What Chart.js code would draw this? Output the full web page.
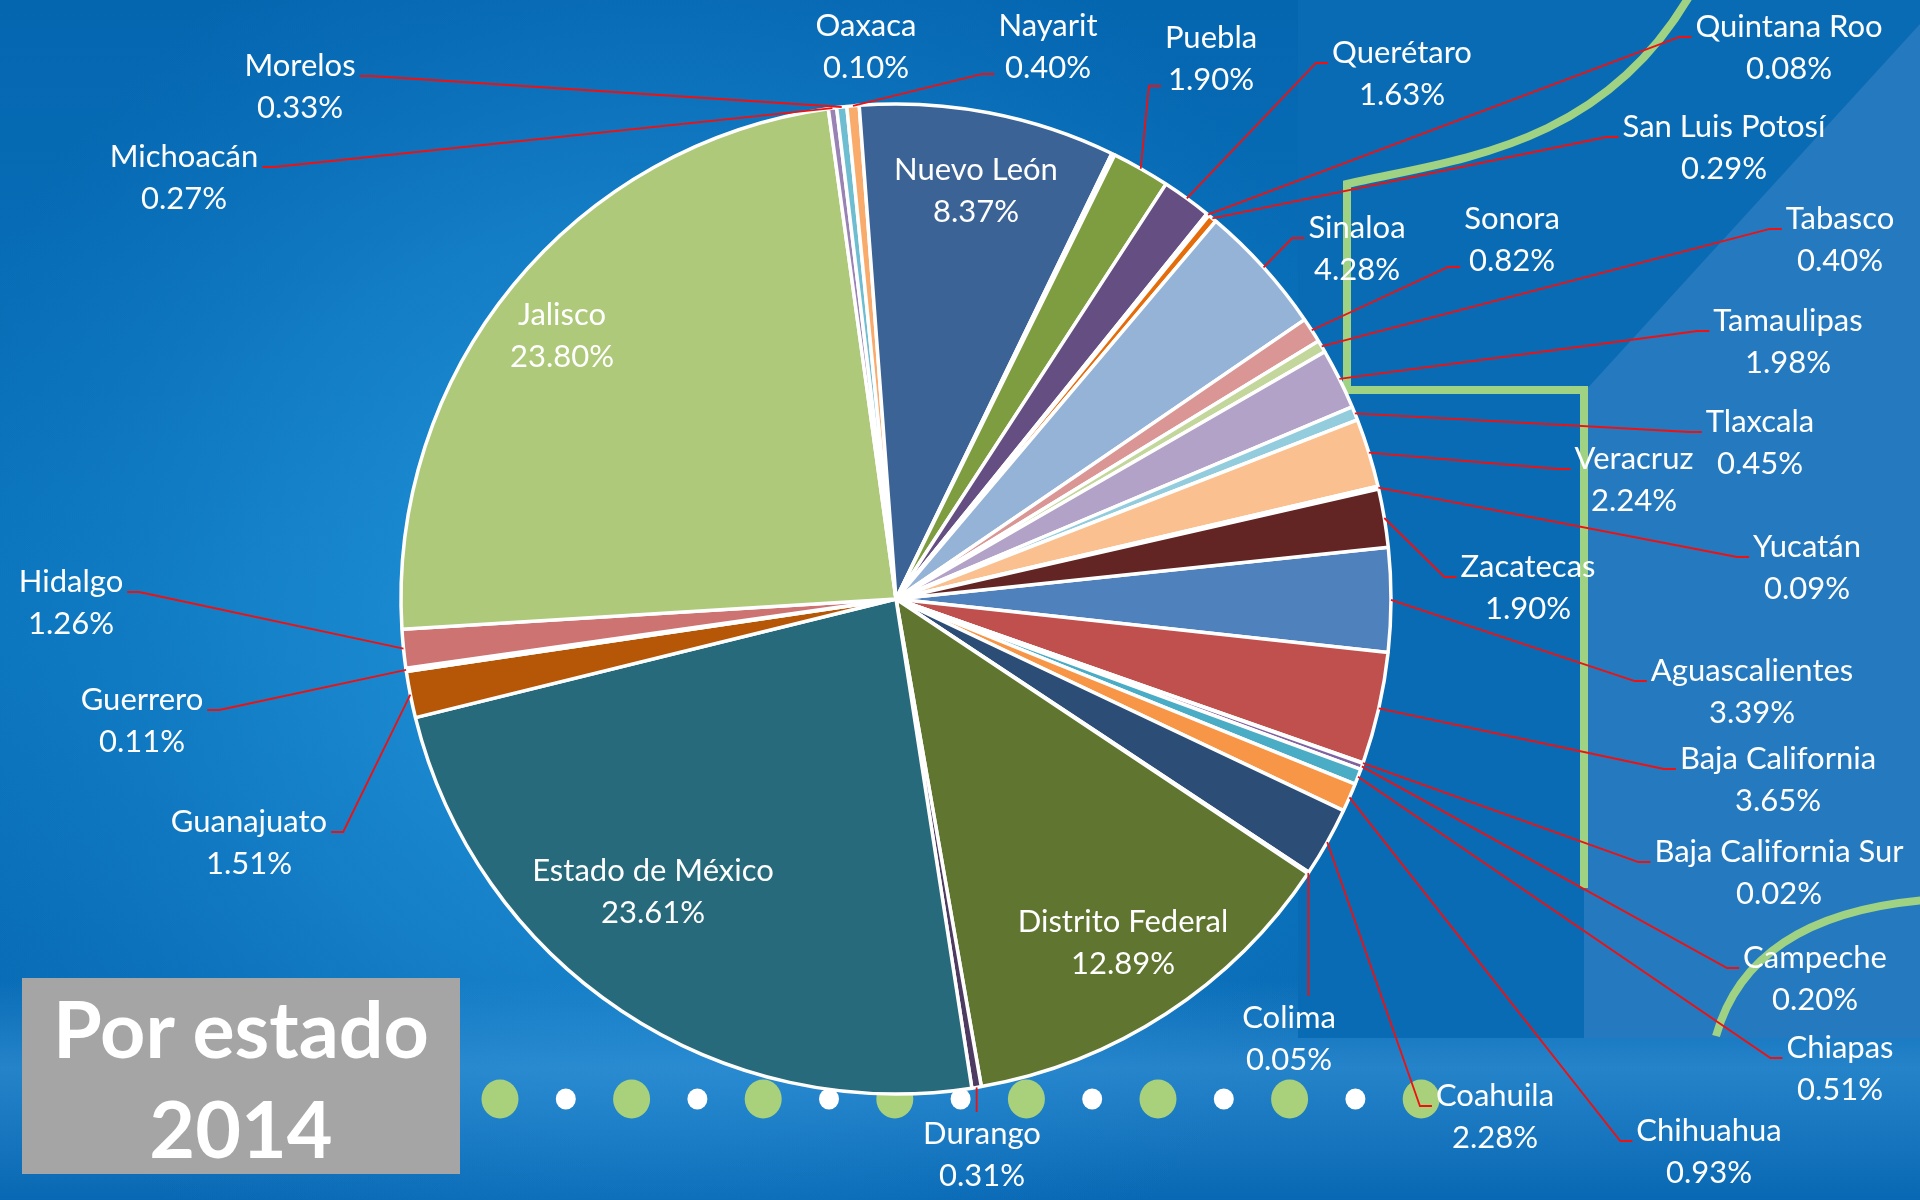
<!DOCTYPE html>
<html>
<head>
<meta charset="utf-8">
<title>Por estado 2014</title>
<script src="https://cdn.jsdelivr.net/npm/chart.js@4.4.1/dist/chart.umd.min.js"></script>
<style>
  html, body { margin: 0; padding: 0; background: #0a6ab4; overflow: hidden; }
  #wrap { position: relative; width: 1920px; height: 1200px; }
  #title {
    position: absolute; left: 22px; top: 978px; width: 438px; height: 196px;
    background: #a5a5a5; color: #fff; text-align: center;
    font: bold 79px Lato, sans-serif; line-height: 100px;
  }
</style>
</head>
<body>
<div id="wrap">
  <canvas id="chart" width="1920" height="1200"></canvas>
  <div id="title">Por estado<br>2014</div>
</div>
<script>
// datos por estado (porcentaje del total, 2014)
var estados = [
    "Aguascalientes", "Baja California", "Baja California Sur", "Campeche",
    "Chiapas", "Chihuahua", "Coahuila", "Colima", "Distrito Federal", "Durango",
    "Estado de México", "Guanajuato", "Guerrero", "Hidalgo", "Jalisco",
    "Michoacán", "Morelos", "Nayarit", "Nuevo León", "Oaxaca", "Puebla",
    "Querétaro", "Quintana Roo", "San Luis Potosí", "Sinaloa", "Sonora",
    "Tabasco", "Tamaulipas", "Tlaxcala", "Veracruz", "Yucatán", "Zacatecas"
];
var porcentajes = [
    3.39, 3.65, 0.02, 0.20,
    0.51, 0.93, 2.28, 0.05, 12.89, 0.31,
    23.61, 1.51, 0.11, 1.26, 23.80,
    0.27, 0.33, 0.40, 8.37, 0.10, 1.90,
    1.63, 0.08, 0.29, 4.28, 0.82,
    0.40, 1.98, 0.45, 2.24, 0.09, 1.90
];
var colores = [
    "#4F81BD", "#C0504D", "#9BBB59", "#8064A2",
    "#4BACC6", "#F79646", "#2C4D75", "#772C2A", "#5F7530", "#4D3B62",
    "#276A7C", "#B65708", "#729ACA", "#CD7371", "#AFC97A",
    "#9983B5", "#6FBDD1", "#F9AB6B", "#3B6396", "#8F3C3A", "#7E9D41",
    "#654F82", "#3A8FA5", "#E46C0A", "#95B3D7", "#D99694",
    "#C3D69B", "#B2A2C7", "#93CDDD", "#FAC090", "#254061", "#632523"
];

// posicion de cada etiqueta (centro de la linea del nombre) y fila donde llega la guia
// fila: 0 = nombre, 1 = porcentaje, null = sin guia
var labelPos = [
    [1752, 671, 0], [1778, 759, 0], [1779, 852, 0], [1815, 958, 0],
    [1840, 1048, 0], [1709, 1131, 0], [1495, 1096, 0], [1289, 1018, 0], [1123, 922, null], [982, 1134, 0],
    [653, 871, null], [249, 822, 0], [142, 700, 0], [71, 582, 0], [562, 315, null],
    [184, 157, 0], [300, 66, 0], [1048, 26, 1], [976, 170, null], [866, 26, null], [1211, 38, 1],
    [1402, 53, 0], [1789, 27, 0], [1724, 127, 0], [1357, 228, 0], [1512, 219, 1],
    [1840, 219, 0], [1788, 321, 0], [1760, 422, 0], [1634, 459, 0], [1807, 547, 0], [1528, 567, 0]
];

var lineH = 42;

// fondo: degradado azul, panel, lineas verdes y puntos
var fondoPlugin = {
    id: 'fondo',
    beforeDraw: function (chart) {
        var ctx = chart.ctx, W = chart.width, H = chart.height;
        ctx.save();
        var g = ctx.createLinearGradient(0, 0, 0, H);
        g.addColorStop(0, '#0566b0');
        g.addColorStop(0.5, '#0a76bd');
        g.addColorStop(1, '#0968b3');
        ctx.fillStyle = g;
        ctx.fillRect(0, 0, W, H);

        var r = ctx.createRadialGradient(660, 620, 0, 660, 620, 760);
        r.addColorStop(0, 'rgba(40,155,220,0.95)');
        r.addColorStop(0.55, 'rgba(30,140,212,0.5)');
        r.addColorStop(1, 'rgba(20,120,200,0)');
        ctx.fillStyle = r;
        ctx.fillRect(0, 0, W, H);

        var b = ctx.createLinearGradient(0, 980, 0, 1200);
        b.addColorStop(0, 'rgba(70,160,225,0)');
        b.addColorStop(0.4, 'rgba(70,160,225,0.45)');
        b.addColorStop(1, 'rgba(70,160,225,0)');
        ctx.fillStyle = b;
        ctx.fillRect(0, 980, W, 220);

        // panel derecho
        ctx.fillStyle = '#0a6bb5';
        ctx.fillRect(1298, 0, W - 1298, 1038);
        ctx.fillStyle = '#2479bf';
        ctx.beginPath();
        ctx.moveTo(1920, 24);
        ctx.lineTo(1920, 1038);
        ctx.lineTo(1584, 1038);
        ctx.lineTo(1584, 392);
        ctx.closePath();
        ctx.fill();

        // lineas verdes
        ctx.strokeStyle = '#9fd283';
        ctx.lineWidth = 8;
        ctx.lineJoin = 'miter';
        ctx.beginPath();
        ctx.moveTo(1690, -5);
        ctx.bezierCurveTo(1600, 150, 1450, 160, 1347, 184);
        ctx.lineTo(1347, 390);
        ctx.lineTo(1584, 390);
        ctx.lineTo(1584, 888);
        ctx.stroke();
        ctx.beginPath();
        ctx.moveTo(1716, 1036);
        ctx.quadraticCurveTo(1750, 915, 1925, 900);
        ctx.stroke();

        // puntos
        for (var k = 0; k < 15; k++) {
            var cx = 500 + k * 65.8;
            ctx.beginPath();
            if (k % 2 === 0) {
                ctx.fillStyle = '#a9d17b';
                ctx.ellipse(cx, 1099, 18.5, 19.5, 0, 0, Math.PI * 2);
            } else {
                ctx.fillStyle = '#ffffff';
                ctx.ellipse(cx, 1099, 10, 10.5, 0, 0, Math.PI * 2);
            }
            ctx.fill();
        }
        ctx.restore();
    }
};

// etiquetas y lineas guia
var etiquetasPlugin = {
    id: 'etiquetas',
    afterDatasetsDraw: function (chart) {
        var ctx = chart.ctx;
        var arcs = chart.getDatasetMeta(0).data;
        ctx.save();
        ctx.font = '31px Lato';
        ctx.textAlign = 'center';
        ctx.textBaseline = 'middle';
        arcs.forEach(function (arc, i) {
            var p = arc.getProps(['x', 'y', 'startAngle', 'endAngle', 'outerRadius'], true);
            var mid = (p.startAngle + p.endAngle) / 2;
            var ax = p.x + Math.cos(mid) * p.outerRadius;
            var ay = p.y + Math.sin(mid) * p.outerRadius;
            var lx = labelPos[i][0], ly = labelPos[i][1], fila = labelPos[i][2];
            var name = estados[i];
            var val = porcentajes[i].toFixed(2) + '%';
            var w = Math.max(ctx.measureText(name).width, ctx.measureText(val).width);
            var left = lx - w / 2, right = lx + w / 2;

            if (fila !== null) {
                ctx.strokeStyle = '#f01010';
                ctx.lineWidth = 1.8;
                ctx.beginPath();
                ctx.moveTo(ax, ay);
                if (ax > left && ax < right) {
                    // guia vertical hacia arriba o abajo de la etiqueta
                    var vy = ay < ly ? ly - 22 : ly + lineH + 22;
                    ctx.lineTo(ax, vy);
                } else {
                    var dir = ax < left ? -1 : 1;
                    var side = ax < left ? left - 4 : right + 4;
                    var ty = fila === 1 ? ly + lineH + 6 : ly + 10;
                    ctx.lineTo(side + dir * 12, ty);
                    ctx.lineTo(side, ty);
                }
                ctx.stroke();
            }
            ctx.fillStyle = '#ffffff';
            ctx.fillText(name, lx, ly);
            ctx.fillText(val, lx, ly + lineH);
        });
        ctx.restore();
    }
};

function dibujar() {
    new Chart(document.getElementById('chart'), {
        type: 'pie',
        data: {
            labels: estados,
            datasets: [{
                data: porcentajes,
                backgroundColor: colores,
                borderColor: '#ffffff',
                borderWidth: 3.5,
                radius: 495
            }]
        },
        options: {
            responsive: false,
            animation: false,
            rotation: 84,
            layout: {
                padding: { left: 400, right: 528, top: 100, bottom: 102 }
            },
            plugins: {
                legend: { display: false },
                tooltip: { enabled: false }
            }
        },
        plugins: [fondoPlugin, etiquetasPlugin]
    });
}

if (document.fonts && document.fonts.load) {
    document.fonts.load('31px Lato').then(dibujar, dibujar);
} else {
    dibujar();
}
</script>
</body>
</html>
